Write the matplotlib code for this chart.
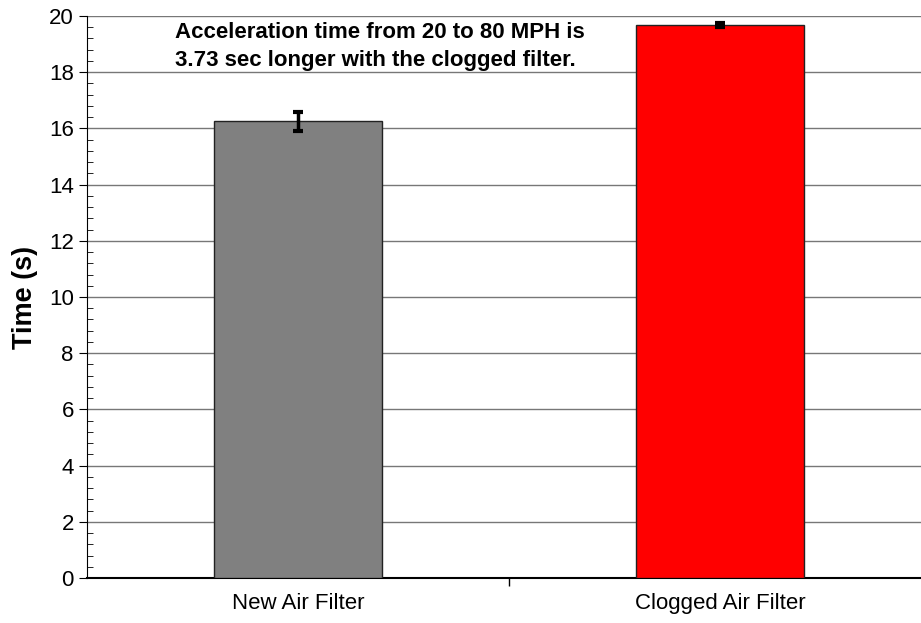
import matplotlib
matplotlib.use('Agg')
import matplotlib.pyplot as plt
from matplotlib.ticker import MultipleLocator, FixedLocator, NullFormatter

plt.rcParams['font.family'] = ['Liberation Sans', 'DejaVu Sans']

# data
categories = ['New Air Filter', 'Clogged Air Filter']
times = [16.25, 19.68]
errors = [0.35, 0.07]
bar_colors = ['#808080', '#ff0000']
note = 'Acceleration time from 20 to 80 MPH is\n3.73 sec longer with the clogged filter.'

fig = plt.figure(figsize=(9.21, 6.23), dpi=100)
# axes extend slightly past the right edge, like the original export
ax = fig.add_axes([87 / 921, 45 / 623, 844 / 921, 562 / 623])

x = range(len(categories))
ax.bar(x, times, width=0.4, color=bar_colors, edgecolor='#222222', linewidth=1, zorder=3)
ax.errorbar(x, times, yerr=errors, fmt='none', ecolor='black', elinewidth=2.5,
            capsize=3.5, capthick=3, zorder=4)

ax.set_xlim(-0.5, 1.5)
ax.set_ylim(0, 20)
ax.yaxis.set_major_locator(MultipleLocator(2))
ax.yaxis.set_minor_locator(MultipleLocator(0.4))
ax.grid(axis='y', which='major', color='#777777', linewidth=1, zorder=0)

ax.set_xticks(list(x))
ax.set_xticklabels(categories, fontsize=16)
ax.tick_params(axis='x', length=0, pad=11)
ax.xaxis.set_minor_locator(FixedLocator([0.5]))
ax.xaxis.set_minor_formatter(NullFormatter())
ax.tick_params(axis='x', which='minor', length=6, width=1, direction='out')
ax.tick_params(axis='y', which='major', length=6, labelsize=16, direction='out')
ax.tick_params(axis='y', which='minor', length=4, direction='in')

for s in ['top', 'right']:
    ax.spines[s].set_visible(False)
ax.spines['left'].set_color('black')
ax.spines['bottom'].set_linewidth(1.5)

ax.set_ylabel('Time (s)', fontsize=19.5, fontweight='bold', labelpad=8)

ax.text(0.104, 0.99, note, transform=ax.transAxes, fontsize=16, fontweight='bold',
        va='top', ha='left', linespacing=1.45, zorder=5)

plt.savefig('out.png', dpi=100, facecolor='white')
